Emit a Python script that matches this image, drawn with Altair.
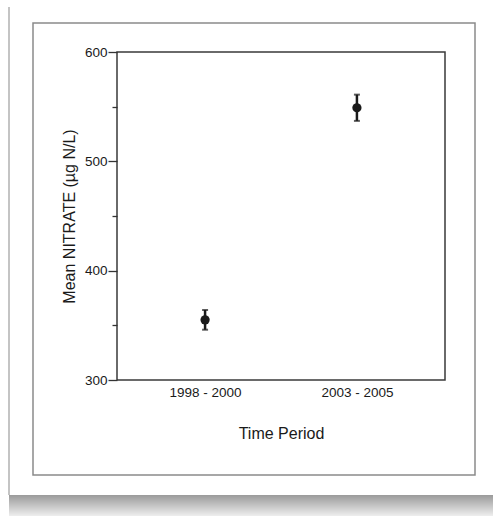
import altair as alt
import pandas as pd

periods = ["1998 - 2000", "2003 - 2005"]
means = [355, 549]
errors = [9, 12]
tick_values = [300, 350, 400, 450, 500, 550, 600]

df = pd.DataFrame({
    "period": periods,
    "mean": means,
    "lo": [m - e for m, e in zip(means, errors)],
    "hi": [m + e for m, e in zip(means, errors)],
})

FONT = "Liberation Sans"
INK = "#1a1a1a"

base = alt.Chart(df)
xsort = alt.X("period:N", sort=periods)

xenc = alt.X("period:N", sort=periods,
             scale=alt.Scale(type="point", padding=0.58),
             axis=alt.Axis(title="Time Period", labelAngle=0, labelAlign="center",
                           ticks=False, domain=False,
                           labelFontSize=13.5, labelPadding=12, labelColor=INK,
                           titleFontSize=16, titleFontWeight="normal", titleColor=INK,
                           titlePadding=27, labelFont=FONT, titleFont=FONT))
yscale = alt.Scale(domain=[300, 600], nice=False, zero=False)

major = "datum.value % 100 === 0"

points = base.mark_circle(size=85, color=INK, opacity=1).encode(
    x=xenc,
    y=alt.Y("mean:Q", scale=yscale,
            axis=alt.Axis(title="Mean NITRATE (µg N/L)", values=tick_values,
                          labelExpr="datum.value % 100 === 0 ? datum.label : ''",
                          tickSize={"condition": {"test": major, "value": 9}, "value": 5},
                          tickWidth=1.3, tickColor="#333", domain=False,
                          grid=False, labelFontSize=13.5, labelPadding=1, labelColor=INK,
                          titleFontSize=16, titleFontWeight="normal", titleColor=INK,
                          titlePadding=7, labelFont=FONT, titleFont=FONT)),
)

bars = base.mark_rule(color=INK, strokeWidth=2.5).encode(x=xsort, y="lo:Q", y2="hi:Q")
caps_hi = base.mark_tick(color=INK, thickness=2, size=6, orient="horizontal").encode(
    x=xsort, y="hi:Q")
caps_lo = base.mark_tick(color=INK, thickness=2, size=6, orient="horizontal").encode(
    x=xsort, y="lo:Q")

one = alt.Data(values=[{"k": 1}])
shadow = alt.Chart(one).mark_rect(
    fill=alt.Gradient(gradient="linear", x1=0, y1=0, x2=0, y2=1,
                      stops=[alt.GradientStop(offset=0, color="#9a9a9a"),
                             alt.GradientStop(offset=1, color="#eeeeee")])
).encode(x=alt.value(-108), x2=alt.value(376), y=alt.value(443), y2=alt.value(464))
card_left = alt.Chart(one).mark_rule(color="#c4c4c4", strokeWidth=2).encode(
    x=alt.value(-108), y=alt.value(-45), y2=alt.value(443))
frame = alt.Chart(one).mark_rect(fillOpacity=0, stroke="#8a8a8a", strokeWidth=1.5).encode(
    x=alt.value(-84), x2=alt.value(358), y=alt.value(-29), y2=alt.value(423))

chart = alt.layer(shadow, card_left, frame, bars, caps_hi, caps_lo, points).properties(
    width=328, height=328,
    autosize=alt.AutoSizeParams(type="none"),
    padding={"left": 117, "top": 52, "right": 48, "bottom": 136},
    background="white",
).configure_view(stroke="#3a3a3a", strokeWidth=1.5)

chart.save("out.html", embed_options={"renderer": "svg", "actions": False})
